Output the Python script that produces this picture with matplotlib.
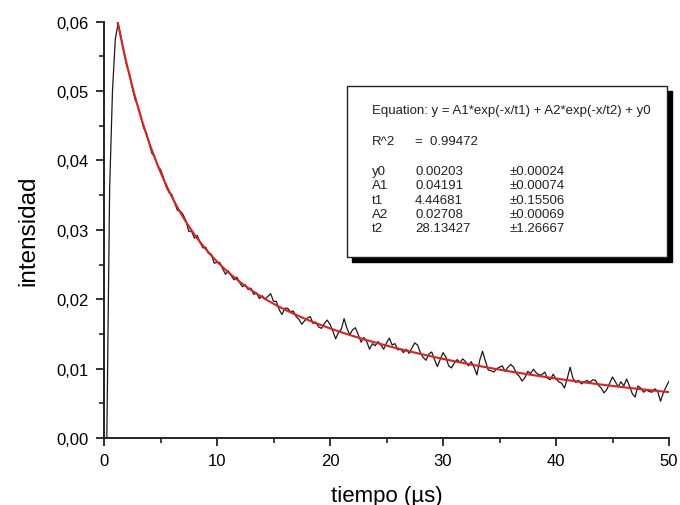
import numpy as np
import matplotlib
matplotlib.use("Agg")
import matplotlib.pyplot as plt
from matplotlib.ticker import FuncFormatter, MultipleLocator
from matplotlib.patches import Rectangle

plt.rcParams['font.family'] = ['Liberation Sans', 'DejaVu Sans']

# Measured decay signal, sampled every 0.25 µs starting at t = 0
t_start = 0.0
t_step = 0.25
signal = [
    0.0000, 0.0000, 0.0360, 0.0500, 0.0575,
    0.0598, 0.0579, 0.0556, 0.0537,
    0.0525, 0.0505, 0.0488, 0.0479,
    0.0464, 0.0447, 0.0440, 0.0424,
    0.0410, 0.0405, 0.0392, 0.0387,
    0.0376, 0.0362, 0.0354, 0.0351,
    0.0339, 0.0328, 0.0327, 0.0322,
    0.0313, 0.0298, 0.0298, 0.0288,
    0.0292, 0.0282, 0.0274, 0.0275,
    0.0266, 0.0265, 0.0252, 0.0253,
    0.0253, 0.0244, 0.0236, 0.0241,
    0.0234, 0.0228, 0.0232, 0.0224,
    0.0218, 0.0221, 0.0214, 0.0216,
    0.0207, 0.0209, 0.0201, 0.0205,
    0.0200, 0.0204, 0.0208, 0.0197,
    0.0197, 0.0185, 0.0178, 0.0187,
    0.0187, 0.0182, 0.0183, 0.0175,
    0.0171, 0.0164, 0.0169, 0.0173,
    0.0175, 0.0165, 0.0167, 0.0160,
    0.0158, 0.0165, 0.0170, 0.0164,
    0.0154, 0.0143, 0.0152, 0.0157,
    0.0172, 0.0158, 0.0149, 0.0156,
    0.0159, 0.0149, 0.0138, 0.0145,
    0.0139, 0.0128, 0.0136, 0.0133,
    0.0139, 0.0134, 0.0128, 0.0137,
    0.0144, 0.0134, 0.0136, 0.0127,
    0.0128, 0.0123, 0.0128, 0.0122,
    0.0130, 0.0137, 0.0134, 0.0123,
    0.0116, 0.0112, 0.0121, 0.0124,
    0.0113, 0.0103, 0.0113, 0.0123,
    0.0117, 0.0104, 0.0101, 0.0108,
    0.0113, 0.0109, 0.0114, 0.0110,
    0.0104, 0.0110, 0.0102, 0.0091,
    0.0112, 0.0125, 0.0111, 0.0098,
    0.0097, 0.0095, 0.0100, 0.0102,
    0.0104, 0.0096, 0.0102, 0.0106,
    0.0102, 0.0093, 0.0089, 0.0082,
    0.0087, 0.0096, 0.0093, 0.0099,
    0.0094, 0.0091, 0.0091, 0.0095,
    0.0086, 0.0084, 0.0092, 0.0085,
    0.0081, 0.0079, 0.0072, 0.0086,
    0.0102, 0.0086, 0.0080, 0.0083,
    0.0078, 0.0081, 0.0083, 0.0080,
    0.0084, 0.0083, 0.0076, 0.0072,
    0.0065, 0.0070, 0.0079, 0.0088,
    0.0081, 0.0074, 0.0081, 0.0075,
    0.0085, 0.0075, 0.0064, 0.0059,
    0.0075, 0.0072, 0.0066, 0.0069,
    0.0067, 0.0066, 0.0071, 0.0067,
    0.0053, 0.0065, 0.0074, 0.0082,
]

# Bi-exponential fit parameters (value, error)
fit_names = ["y0", "A1", "t1", "A2", "t2"]
fit_values = [0.00203, 0.04191, 4.44681, 0.02708, 28.13427]
fit_errors = [0.00024, 0.00074, 0.15506, 0.00069, 1.26667]
r_squared = 0.99472
fit_start = 1.2
fit_end = 50.0

x_ticks = [0, 10, 20, 30, 40, 50]
y_ticks = [0.00, 0.01, 0.02, 0.03, 0.04, 0.05, 0.06]

t = t_start + t_step * np.arange(len(signal))
y0, A1, t1, A2, t2 = fit_values
t_fit = np.linspace(fit_start, fit_end, 400)
y_fit = A1 * np.exp(-t_fit / t1) + A2 * np.exp(-t_fit / t2) + y0

W, H = 680, 506
fig = plt.figure(figsize=(W / 100, H / 100), dpi=100)
ax = fig.add_axes([104 / W, 1 - 439 / H, (669 - 104) / W, (439 - 22.7) / H])

ax.plot(t, signal, color="#1a1a1a", lw=0.9)
ax.plot(t_fit, y_fit, color="#e01f1f", lw=1.5)

ax.set_xlim(0, 50)
ax.set_ylim(0, 0.06)
ax.set_xticks(x_ticks)
ax.set_yticks(y_ticks)
ax.xaxis.set_minor_locator(MultipleLocator(5))
ax.yaxis.set_minor_locator(MultipleLocator(0.005))
ax.yaxis.set_major_formatter(FuncFormatter(lambda v, p: f"{v:.2f}".replace(".", ",")))
ax.xaxis.set_major_formatter(FuncFormatter(lambda v, p: f"{v:g}"))

for side in ("top", "right"):
    ax.spines[side].set_visible(False)
for side in ("left", "bottom"):
    ax.spines[side].set_linewidth(1.4)
    ax.spines[side].set_color("#222222")

ax.tick_params(which="major", direction="out", length=6, width=1.3, color="#222222",
               labelsize=12, pad=5)
ax.tick_params(which="minor", direction="out", length=3.5, width=1.2, color="#222222")

ax.set_xlabel("tiempo (\u00b5s)", fontsize=16, labelpad=12)
ax.set_ylabel("intensidad", fontsize=17.5, labelpad=12)

# Fit results box with drop shadow
bx0, by0, bx1, by1 = 347, 87, 667, 258
sh = 5
fig.add_artist(Rectangle(((bx0 + sh) / W, 1 - (by1 + sh) / H), (bx1 - bx0) / W, (by1 - by0) / H,
                         transform=fig.transFigure, facecolor="black", edgecolor="black", zorder=5))
fig.add_artist(Rectangle((bx0 / W, 1 - by1 / H), (bx1 - bx0) / W, (by1 - by0) / H,
                         transform=fig.transFigure, facecolor="white", edgecolor="#222222",
                         lw=1.0, zorder=6))

fs = 9.5
col0, col1, col2 = 372, 415, 510


def put(x, y, s):
    fig.text(x / W, 1 - y / H, s, fontsize=fs, va="center", ha="left", zorder=7, color="#222222")


put(col0, 111, "Equation: y = A1*exp(-x/t1) + A2*exp(-x/t2) + y0")
put(col0, 142, "R^2")
put(col1, 142, "=  " + f"{r_squared:.5f}")
for i, (n, v, e) in enumerate(zip(fit_names, fit_values, fit_errors)):
    yy = 172 + i * 14.3
    put(col0, yy, n)
    put(col1, yy, f"{v:.5f}")
    put(col2, yy, "\u00b1" + f"{e:.5f}")

fig.savefig("out.png", dpi=100)
